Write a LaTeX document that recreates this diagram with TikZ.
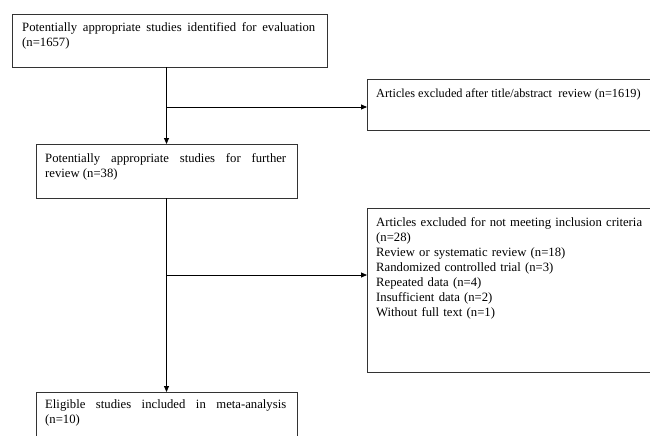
\documentclass[tikz,border=0pt]{standalone}
\usepackage{fontspec}
\setmainfont{Liberation Serif}
\usetikzlibrary{arrows.meta}
\begin{document}
\begin{tikzpicture}[x=1pt,y=-1pt,
  boxframe/.style={draw=black!80, line width=0.9pt},
  txt/.style={anchor=base west, inner sep=0pt, font=\fontsize{12.7}{15}\selectfont, align=justify},
  flow/.style={draw=black, line width=0.8pt},
  arr/.style={flow, -{Triangle[length=6pt,width=5pt]}}]
\useasboundingbox (0,0) rectangle (650,436);
% boxes
\draw[boxframe] (12,14) rectangle (327,67);
\coordinate (b1s) at (166.5,67);
\draw[boxframe] (367,79) rectangle (653,130);
\coordinate (b2w) at (367,107);
\draw[boxframe] (36,144) rectangle (297,198);
\coordinate (b3n) at (166.5,144);
\coordinate (b3s) at (166.5,198);
\draw[boxframe] (367,208) rectangle (653,372);
\coordinate (b4w) at (367,275);
\draw[boxframe] (36,392) rectangle (297,440);
\coordinate (b5n) at (166.5,392);
% texts
\node[txt, text width=293pt] (t1) at (22,32) {Potentially appropriate studies identified for evaluation\linebreak (n=1657)};
\node[txt, font=\fontsize{12.3}{15}\selectfont] (t2) at (376,97) {Articles excluded after title/abstract\ \ review (n=1619)};
\node[txt, text width=241pt] (t3) at (45,162) {Potentially appropriate studies for further\linebreak review (n=38)};
\node[txt, align=left, text width=280pt] (t4) at (376,226) {Articles excluded for not meeting inclusion criteria\\(n=28)\\Review or systematic review (n=18)\\Randomized controlled trial (n=3)\\Repeated data (n=4)\\Insufficient data (n=2)\\Without full text (n=1)};
\node[txt, text width=241pt] (t5) at (45,408) {Eligible studies included in meta-analysis\linebreak (n=10)};
% connectors
\coordinate (j1) at (166.5,107);
\coordinate (j2) at (166.5,275);
\draw[arr] (b1s) -- (b3n);
\draw[arr] (j1) -- (b2w);
\draw[arr] (b3s) -- (b5n);
\draw[arr] (j2) -- (b4w);
\end{tikzpicture}
\end{document}
